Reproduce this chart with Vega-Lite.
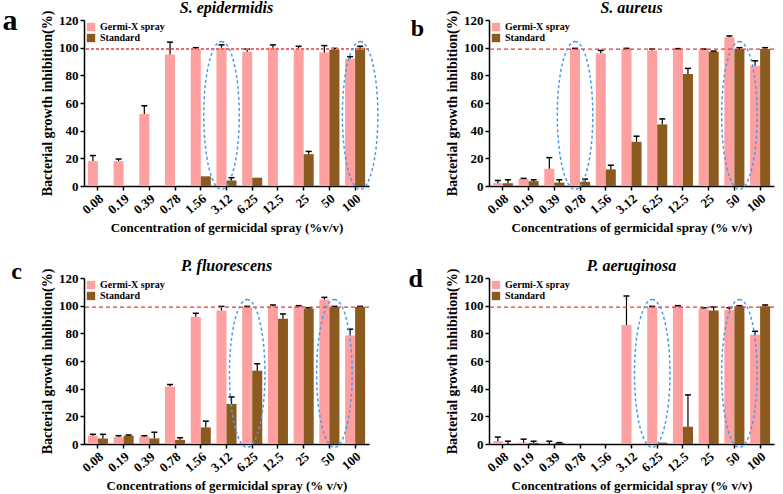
{
  "$schema": "https://vega.github.io/schema/vega-lite/v6.json",
  "padding": {"left": 2, "top": 0, "right": 0, "bottom": 0},
  "background": "white",
  "data": {
    "values": [
      {"p": "a", "c": "0.08", "s": "Germi-X spray", "v": 18, "e": 22},
      {"p": "a", "c": "0.08", "s": "Standard", "v": 0, "e": null},
      {"p": "a", "c": "0.19", "s": "Germi-X spray", "v": 18, "e": 19.5},
      {"p": "a", "c": "0.19", "s": "Standard", "v": 0, "e": null},
      {"p": "a", "c": "0.39", "s": "Germi-X spray", "v": 52, "e": 58},
      {"p": "a", "c": "0.39", "s": "Standard", "v": 0, "e": null},
      {"p": "a", "c": "0.78", "s": "Germi-X spray", "v": 95, "e": 104},
      {"p": "a", "c": "0.78", "s": "Standard", "v": 0, "e": null},
      {"p": "a", "c": "1.56", "s": "Germi-X spray", "v": 99, "e": 100},
      {"p": "a", "c": "1.56", "s": "Standard", "v": 7, "e": null},
      {"p": "a", "c": "3.12", "s": "Germi-X spray", "v": 100, "e": 102, "r": true},
      {"p": "a", "c": "3.12", "s": "Standard", "v": 4, "e": 6},
      {"p": "a", "c": "6.25", "s": "Germi-X spray", "v": 97, "e": 99},
      {"p": "a", "c": "6.25", "s": "Standard", "v": 6, "e": null},
      {"p": "a", "c": "12.5", "s": "Germi-X spray", "v": 100, "e": 102},
      {"p": "a", "c": "12.5", "s": "Standard", "v": 0, "e": null},
      {"p": "a", "c": "25", "s": "Germi-X spray", "v": 98.5, "e": 101},
      {"p": "a", "c": "25", "s": "Standard", "v": 23, "e": 25},
      {"p": "a", "c": "50", "s": "Germi-X spray", "v": 96.5, "e": 101.5},
      {"p": "a", "c": "50", "s": "Standard", "v": 98.5, "e": 99.5},
      {"p": "a", "c": "100", "s": "Germi-X spray", "v": 92, "e": 93.5},
      {"p": "a", "c": "100", "s": "Standard", "v": 100, "e": 101, "r": true},

      {"p": "b", "c": "0.08", "s": "Germi-X spray", "v": 2, "e": 4},
      {"p": "b", "c": "0.08", "s": "Standard", "v": 2, "e": 4.5},
      {"p": "b", "c": "0.19", "s": "Germi-X spray", "v": 5, "e": 5.5},
      {"p": "b", "c": "0.19", "s": "Standard", "v": 3.5, "e": 4.5},
      {"p": "b", "c": "0.39", "s": "Germi-X spray", "v": 12.5, "e": 20.5},
      {"p": "b", "c": "0.39", "s": "Standard", "v": 2.5, "e": 4.5},
      {"p": "b", "c": "0.78", "s": "Germi-X spray", "v": 99, "e": 99.5, "r": true},
      {"p": "b", "c": "0.78", "s": "Standard", "v": 3, "e": 5},
      {"p": "b", "c": "1.56", "s": "Germi-X spray", "v": 96, "e": 98},
      {"p": "b", "c": "1.56", "s": "Standard", "v": 12, "e": 15},
      {"p": "b", "c": "3.12", "s": "Germi-X spray", "v": 99, "e": 99.5},
      {"p": "b", "c": "3.12", "s": "Standard", "v": 32, "e": 36},
      {"p": "b", "c": "6.25", "s": "Germi-X spray", "v": 98, "e": 99},
      {"p": "b", "c": "6.25", "s": "Standard", "v": 44.5, "e": 48.5},
      {"p": "b", "c": "12.5", "s": "Germi-X spray", "v": 99, "e": 99.3},
      {"p": "b", "c": "12.5", "s": "Standard", "v": 81, "e": 85},
      {"p": "b", "c": "25", "s": "Germi-X spray", "v": 98.5, "e": 99},
      {"p": "b", "c": "25", "s": "Standard", "v": 97, "e": 97.5},
      {"p": "b", "c": "50", "s": "Germi-X spray", "v": 107.5, "e": 108.5},
      {"p": "b", "c": "50", "s": "Standard", "v": 99, "e": 100, "r": true},
      {"p": "b", "c": "100", "s": "Germi-X spray", "v": 87, "e": 90.5},
      {"p": "b", "c": "100", "s": "Standard", "v": 99, "e": 100},

      {"p": "c", "c": "0.08", "s": "Germi-X spray", "v": 6, "e": 7},
      {"p": "c", "c": "0.08", "s": "Standard", "v": 4, "e": 7},
      {"p": "c", "c": "0.19", "s": "Germi-X spray", "v": 5, "e": 6},
      {"p": "c", "c": "0.19", "s": "Standard", "v": 6, "e": 6.5},
      {"p": "c", "c": "0.39", "s": "Germi-X spray", "v": 5.5, "e": 6},
      {"p": "c", "c": "0.39", "s": "Standard", "v": 4, "e": 8.5},
      {"p": "c", "c": "0.78", "s": "Germi-X spray", "v": 41.5, "e": 43},
      {"p": "c", "c": "0.78", "s": "Standard", "v": 3, "e": 4.5},
      {"p": "c", "c": "1.56", "s": "Germi-X spray", "v": 92, "e": 94.5},
      {"p": "c", "c": "1.56", "s": "Standard", "v": 12, "e": 16.5},
      {"p": "c", "c": "3.12", "s": "Germi-X spray", "v": 96.5, "e": 99.5},
      {"p": "c", "c": "3.12", "s": "Standard", "v": 29, "e": 34},
      {"p": "c", "c": "6.25", "s": "Germi-X spray", "v": 99, "e": 99.5, "r": true},
      {"p": "c", "c": "6.25", "s": "Standard", "v": 53, "e": 58},
      {"p": "c", "c": "12.5", "s": "Germi-X spray", "v": 99.5, "e": 100.5},
      {"p": "c", "c": "12.5", "s": "Standard", "v": 90.5, "e": 94},
      {"p": "c", "c": "25", "s": "Germi-X spray", "v": 99.5, "e": 100},
      {"p": "c", "c": "25", "s": "Standard", "v": 98, "e": 98.5},
      {"p": "c", "c": "50", "s": "Germi-X spray", "v": 104.5, "e": 106},
      {"p": "c", "c": "50", "s": "Standard", "v": 99, "e": 99.5, "r": true},
      {"p": "c", "c": "100", "s": "Germi-X spray", "v": 78.5, "e": 83},
      {"p": "c", "c": "100", "s": "Standard", "v": 99, "e": 99.5},

      {"p": "d", "c": "0.08", "s": "Germi-X spray", "v": 2, "e": 5},
      {"p": "d", "c": "0.08", "s": "Standard", "v": 0, "e": 2},
      {"p": "d", "c": "0.19", "s": "Germi-X spray", "v": 1, "e": 3.5},
      {"p": "d", "c": "0.19", "s": "Standard", "v": 0.8, "e": 2},
      {"p": "d", "c": "0.39", "s": "Germi-X spray", "v": 0, "e": 2},
      {"p": "d", "c": "0.39", "s": "Standard", "v": 0.7, "e": 1},
      {"p": "d", "c": "0.78", "s": "Germi-X spray", "v": 0, "e": null},
      {"p": "d", "c": "0.78", "s": "Standard", "v": 0, "e": null},
      {"p": "d", "c": "1.56", "s": "Germi-X spray", "v": 0, "e": null},
      {"p": "d", "c": "1.56", "s": "Standard", "v": 0, "e": null},
      {"p": "d", "c": "3.12", "s": "Germi-X spray", "v": 86, "e": 107},
      {"p": "d", "c": "3.12", "s": "Standard", "v": 0, "e": null},
      {"p": "d", "c": "6.25", "s": "Germi-X spray", "v": 99, "e": 99.5, "r": true},
      {"p": "d", "c": "6.25", "s": "Standard", "v": 1, "e": null},
      {"p": "d", "c": "12.5", "s": "Germi-X spray", "v": 99.5, "e": 100},
      {"p": "d", "c": "12.5", "s": "Standard", "v": 12.5, "e": 35.5},
      {"p": "d", "c": "25", "s": "Germi-X spray", "v": 98, "e": 98.5},
      {"p": "d", "c": "25", "s": "Standard", "v": 96.5, "e": 99},
      {"p": "d", "c": "50", "s": "Germi-X spray", "v": 97, "e": 98.5},
      {"p": "d", "c": "50", "s": "Standard", "v": 99.5, "e": 100, "r": true},
      {"p": "d", "c": "100", "s": "Germi-X spray", "v": 79, "e": 81.5},
      {"p": "d", "c": "100", "s": "Standard", "v": 99.5, "e": 100.5}
    ]
  },
  "columns": 2,
  "spacing": {"column": 27, "row": 23},
  "resolve": {"scale": {"color": "independent"}, "legend": {"color": "independent"}},
  "concat": [
    {
      "title": {"text": "a", "orient": "left", "angle": 0, "anchor": "end", "baseline": "top", "fontStyle": "normal", "fontSize": 30, "offset": 8, "dy": 6},
      "resolve": {"scale": {"color": "independent"}, "legend": {"color": "independent"}},
      "vconcat": [
        {
          "title": {"text": "S. epidermidis"},
          "width": 285,
          "height": 166,
          "transform": [{"filter": "datum.p == 'a'"}],
          "layer": [
            {
              "mark": {"type": "bar"},
              "encoding": {
                "x": {"field": "c", "type": "nominal", "sort": ["0.08", "0.19", "0.39", "0.78", "1.56", "3.12", "6.25", "12.5", "25", "50", "100"], "scale": {"paddingInner": 0.22, "paddingOuter": 0.15}, "axis": {"title": "Concentration of germicidal spray  (%v/v)", "labelOverlap": false}},
                "xOffset": {"field": "s", "type": "nominal"},
                "y": {"field": "v", "type": "quantitative", "scale": {"domain": [0, 120], "nice": false}, "axis": {"title": "Bacterial growth  inhibition(%)", "values": [0, 20, 40, 60, 80, 100, 120], "tickCount": 7, "labelOverlap": false}},
                "color": {"field": "s", "type": "nominal", "scale": {"domain": ["Germi-X spray", "Standard"], "range": ["#FFA0A0", "#8B5A1E"]}, "legend": {"title": null}}
              }
            },
            {
              "transform": [{"filter": "datum.e != null"}],
              "mark": {"type": "rule", "color": "black", "strokeWidth": 1.2},
              "encoding": {
                "x": {"field": "c", "type": "nominal", "sort": ["0.08", "0.19", "0.39", "0.78", "1.56", "3.12", "6.25", "12.5", "25", "50", "100"]},
                "xOffset": {"field": "s", "type": "nominal"},
                "y": {"field": "v", "type": "quantitative"},
                "y2": {"field": "e"}
              }
            },
            {
              "transform": [{"filter": "datum.e != null"}],
              "mark": {"type": "tick", "color": "black", "size": 6, "thickness": 1.5, "opacity": 1},
              "encoding": {
                "x": {"field": "c", "type": "nominal", "sort": ["0.08", "0.19", "0.39", "0.78", "1.56", "3.12", "6.25", "12.5", "25", "50", "100"]},
                "xOffset": {"field": "s", "type": "nominal"},
                "y": {"field": "e", "type": "quantitative"}
              }
            },
            {
              "transform": [{"filter": "datum.c == '100' && datum.s == 'Standard'"}],
              "mark": {"type": "rule", "color": "#EE6A6A", "strokeDash": [3, 2], "strokeWidth": 2},
              "encoding": {"y": {"datum": 99}}
            },
            {
              "transform": [{"filter": "datum.r"}],
              "mark": {"type": "point", "shape": "M0,-1A0.24,1,0,0,1,0,1A0.24,1,0,0,1,0,-1Z", "size": 21904, "filled": false, "stroke": "#4C9BE8", "strokeWidth": 1.5, "strokeDash": [3, 2.5], "opacity": 1},
              "encoding": {
                "x": {"field": "c", "type": "nominal", "sort": ["0.08", "0.19", "0.39", "0.78", "1.56", "3.12", "6.25", "12.5", "25", "50", "100"]},
                "xOffset": {"field": "s", "type": "nominal"},
                "y": {"datum": 51}
              }
            }
          ]
        }
      ]
    },
    {
      "title": {"text": "b", "orient": "left", "angle": 0, "anchor": "end", "baseline": "top", "fontStyle": "normal", "fontSize": 24, "offset": 8, "dy": 17},
      "resolve": {"scale": {"color": "independent"}, "legend": {"color": "independent"}},
      "vconcat": [
        {
          "title": {"text": "S. aureus"},
          "width": 285,
          "height": 166,
          "transform": [{"filter": "datum.p == 'b'"}],
          "layer": [
            {
              "mark": {"type": "bar"},
              "encoding": {
                "x": {"field": "c", "type": "nominal", "sort": ["0.08", "0.19", "0.39", "0.78", "1.56", "3.12", "6.25", "12.5", "25", "50", "100"], "scale": {"paddingInner": 0.22, "paddingOuter": 0.15}, "axis": {"title": "Concentrations of germicidal spray (% v/v)", "labelOverlap": false}},
                "xOffset": {"field": "s", "type": "nominal"},
                "y": {"field": "v", "type": "quantitative", "scale": {"domain": [0, 120], "nice": false}, "axis": {"title": "Bacterial growth  inhibition(%)", "values": [0, 20, 40, 60, 80, 100, 120], "tickCount": 7, "labelOverlap": false}},
                "color": {"field": "s", "type": "nominal", "scale": {"domain": ["Germi-X spray", "Standard"], "range": ["#FFA0A0", "#8B5A1E"]}, "legend": {"title": null}}
              }
            },
            {
              "transform": [{"filter": "datum.e != null"}],
              "mark": {"type": "rule", "color": "black", "strokeWidth": 1.2},
              "encoding": {
                "x": {"field": "c", "type": "nominal", "sort": ["0.08", "0.19", "0.39", "0.78", "1.56", "3.12", "6.25", "12.5", "25", "50", "100"]},
                "xOffset": {"field": "s", "type": "nominal"},
                "y": {"field": "v", "type": "quantitative"},
                "y2": {"field": "e"}
              }
            },
            {
              "transform": [{"filter": "datum.e != null"}],
              "mark": {"type": "tick", "color": "black", "size": 6, "thickness": 1.5, "opacity": 1},
              "encoding": {
                "x": {"field": "c", "type": "nominal", "sort": ["0.08", "0.19", "0.39", "0.78", "1.56", "3.12", "6.25", "12.5", "25", "50", "100"]},
                "xOffset": {"field": "s", "type": "nominal"},
                "y": {"field": "e", "type": "quantitative"}
              }
            },
            {
              "transform": [{"filter": "datum.c == '100' && datum.s == 'Standard'"}],
              "mark": {"type": "rule", "color": "#E53935", "strokeDash": [4, 3], "strokeWidth": 1.2},
              "encoding": {"y": {"datum": 99}}
            },
            {
              "transform": [{"filter": "datum.r"}],
              "mark": {"type": "point", "shape": "M0,-1A0.24,1,0,0,1,0,1A0.24,1,0,0,1,0,-1Z", "size": 21904, "filled": false, "stroke": "#4C9BE8", "strokeWidth": 1.5, "strokeDash": [3, 2.5], "opacity": 1},
              "encoding": {
                "x": {"field": "c", "type": "nominal", "sort": ["0.08", "0.19", "0.39", "0.78", "1.56", "3.12", "6.25", "12.5", "25", "50", "100"]},
                "xOffset": {"field": "s", "type": "nominal"},
                "y": {"datum": 51}
              }
            }
          ]
        }
      ]
    },
    {
      "title": {"text": "c", "orient": "left", "angle": 0, "anchor": "end", "baseline": "top", "fontStyle": "normal", "fontSize": 24, "offset": 8, "dy": 2},
      "resolve": {"scale": {"color": "independent"}, "legend": {"color": "independent"}},
      "vconcat": [
        {
          "title": {"text": "P. fluorescens"},
          "width": 285,
          "height": 166,
          "transform": [{"filter": "datum.p == 'c'"}],
          "layer": [
            {
              "mark": {"type": "bar"},
              "encoding": {
                "x": {"field": "c", "type": "nominal", "sort": ["0.08", "0.19", "0.39", "0.78", "1.56", "3.12", "6.25", "12.5", "25", "50", "100"], "scale": {"paddingInner": 0.22, "paddingOuter": 0.15}, "axis": {"title": "Concentrations of germicidal spray (% v/v)", "labelOverlap": false}},
                "xOffset": {"field": "s", "type": "nominal"},
                "y": {"field": "v", "type": "quantitative", "scale": {"domain": [0, 120], "nice": false}, "axis": {"title": "Bacterial growth  inhibition(%)", "values": [0, 20, 40, 60, 80, 100, 120], "tickCount": 7, "labelOverlap": false}},
                "color": {"field": "s", "type": "nominal", "scale": {"domain": ["Germi-X spray", "Standard"], "range": ["#FFA0A0", "#8B5A1E"]}, "legend": {"title": null}}
              }
            },
            {
              "transform": [{"filter": "datum.e != null"}],
              "mark": {"type": "rule", "color": "black", "strokeWidth": 1.2},
              "encoding": {
                "x": {"field": "c", "type": "nominal", "sort": ["0.08", "0.19", "0.39", "0.78", "1.56", "3.12", "6.25", "12.5", "25", "50", "100"]},
                "xOffset": {"field": "s", "type": "nominal"},
                "y": {"field": "v", "type": "quantitative"},
                "y2": {"field": "e"}
              }
            },
            {
              "transform": [{"filter": "datum.e != null"}],
              "mark": {"type": "tick", "color": "black", "size": 6, "thickness": 1.5, "opacity": 1},
              "encoding": {
                "x": {"field": "c", "type": "nominal", "sort": ["0.08", "0.19", "0.39", "0.78", "1.56", "3.12", "6.25", "12.5", "25", "50", "100"]},
                "xOffset": {"field": "s", "type": "nominal"},
                "y": {"field": "e", "type": "quantitative"}
              }
            },
            {
              "transform": [{"filter": "datum.c == '100' && datum.s == 'Standard'"}],
              "mark": {"type": "rule", "color": "#E53935", "strokeDash": [4, 3], "strokeWidth": 1.2},
              "encoding": {"y": {"datum": 99}}
            },
            {
              "transform": [{"filter": "datum.r"}],
              "mark": {"type": "point", "shape": "M0,-1A0.24,1,0,0,1,0,1A0.24,1,0,0,1,0,-1Z", "size": 21904, "filled": false, "stroke": "#4C9BE8", "strokeWidth": 1.5, "strokeDash": [3, 2.5], "opacity": 1},
              "encoding": {
                "x": {"field": "c", "type": "nominal", "sort": ["0.08", "0.19", "0.39", "0.78", "1.56", "3.12", "6.25", "12.5", "25", "50", "100"]},
                "xOffset": {"field": "s", "type": "nominal"},
                "y": {"datum": 51}
              }
            }
          ]
        }
      ]
    },
    {
      "title": {"text": "d", "orient": "left", "angle": 0, "anchor": "end", "baseline": "top", "fontStyle": "normal", "fontSize": 26, "offset": 8, "dy": 8},
      "resolve": {"scale": {"color": "independent"}, "legend": {"color": "independent"}},
      "vconcat": [
        {
          "title": {"text": "P. aeruginosa"},
          "width": 285,
          "height": 166,
          "transform": [{"filter": "datum.p == 'd'"}],
          "layer": [
            {
              "mark": {"type": "bar"},
              "encoding": {
                "x": {"field": "c", "type": "nominal", "sort": ["0.08", "0.19", "0.39", "0.78", "1.56", "3.12", "6.25", "12.5", "25", "50", "100"], "scale": {"paddingInner": 0.22, "paddingOuter": 0.15}, "axis": {"title": "Concentrations of germicidal spray (% v/v)", "labelOverlap": false}},
                "xOffset": {"field": "s", "type": "nominal"},
                "y": {"field": "v", "type": "quantitative", "scale": {"domain": [0, 120], "nice": false}, "axis": {"title": "Bacterial growth  inhibition(%)", "values": [0, 20, 40, 60, 80, 100, 120], "tickCount": 7, "labelOverlap": false}},
                "color": {"field": "s", "type": "nominal", "scale": {"domain": ["Germi-X spray", "Standard"], "range": ["#FFA0A0", "#8B5A1E"]}, "legend": {"title": null}}
              }
            },
            {
              "transform": [{"filter": "datum.e != null"}],
              "mark": {"type": "rule", "color": "black", "strokeWidth": 1.2},
              "encoding": {
                "x": {"field": "c", "type": "nominal", "sort": ["0.08", "0.19", "0.39", "0.78", "1.56", "3.12", "6.25", "12.5", "25", "50", "100"]},
                "xOffset": {"field": "s", "type": "nominal"},
                "y": {"field": "v", "type": "quantitative"},
                "y2": {"field": "e"}
              }
            },
            {
              "transform": [{"filter": "datum.e != null"}],
              "mark": {"type": "tick", "color": "black", "size": 6, "thickness": 1.5, "opacity": 1},
              "encoding": {
                "x": {"field": "c", "type": "nominal", "sort": ["0.08", "0.19", "0.39", "0.78", "1.56", "3.12", "6.25", "12.5", "25", "50", "100"]},
                "xOffset": {"field": "s", "type": "nominal"},
                "y": {"field": "e", "type": "quantitative"}
              }
            },
            {
              "transform": [{"filter": "datum.c == '100' && datum.s == 'Standard'"}],
              "mark": {"type": "rule", "color": "#E53935", "strokeDash": [4, 3], "strokeWidth": 1.2},
              "encoding": {"y": {"datum": 99}}
            },
            {
              "transform": [{"filter": "datum.r"}],
              "mark": {"type": "point", "shape": "M0,-1A0.24,1,0,0,1,0,1A0.24,1,0,0,1,0,-1Z", "size": 21904, "filled": false, "stroke": "#4C9BE8", "strokeWidth": 1.5, "strokeDash": [3, 2.5], "opacity": 1},
              "encoding": {
                "x": {"field": "c", "type": "nominal", "sort": ["0.08", "0.19", "0.39", "0.78", "1.56", "3.12", "6.25", "12.5", "25", "50", "100"]},
                "xOffset": {"field": "s", "type": "nominal"},
                "y": {"datum": 51}
              }
            }
          ]
        }
      ]
    }
  ],
  "config": {
    "font": "Liberation Serif",
    "view": {"stroke": null},
    "title": {"font": "Liberation Serif", "fontSize": 16, "fontWeight": "bold", "fontStyle": "italic", "color": "black", "offset": -8},
    "axis": {
      "grid": false,
      "labelFont": "Liberation Serif",
      "labelFontWeight": "bold",
      "labelColor": "black",
      "titleFont": "Liberation Serif",
      "titleFontWeight": "bold",
      "titleFontSize": 14,
      "titleColor": "black",
      "domainColor": "black",
      "domainWidth": 1.5,
      "tickColor": "black",
      "tickWidth": 1.5,
      "tickSize": 4
    },
    "axisX": {"labelAngle": -40, "labelFontSize": 13, "titleFontSize": 13, "titlePadding": 5},
    "axisY": {"labelFontSize": 13, "titlePadding": 4, "labelPadding": 2},
    "legend": {
      "orient": "top-left",
      "offset": 2,
      "padding": 0,
      "symbolType": "square",
      "symbolSize": 70,
      "symbolStrokeWidth": 0,
      "labelFont": "Liberation Serif",
      "labelFontWeight": "bold",
      "labelFontSize": 10,
      "labelColor": "black",
      "rowPadding": 1
    }
  }
}
